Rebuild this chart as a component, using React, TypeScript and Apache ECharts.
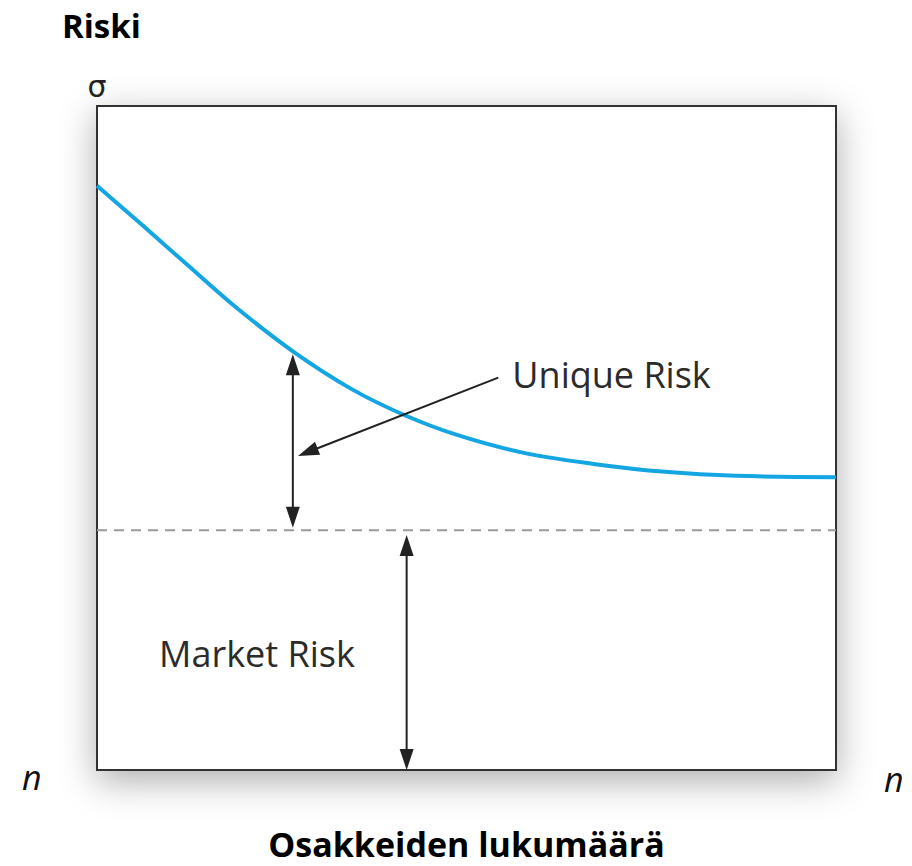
import React, { useEffect, useRef } from "react";
import * as echarts from "echarts";

// Curve of total risk (sigma) against number of shares
const curveX = [0, 6.2, 12.6, 19.0, 26.7, 34.4, 41.5, 48.6, 57.6, 67.2, 76.9, 86.5, 100];
const curveY = [88.0, 82.0, 75.7, 69.5, 62.9, 57.4, 53.5, 50.5, 47.8, 46.1, 44.9, 44.3, 44.1];

// Market risk level (dashed line)
const marketRiskLevel = 36.1;

// Arrows: [x1, y1, x2, y2, headAtStart, headAtEnd]
const arrowX1 = [26.5, 41.9, 54.3];
const arrowY1 = [62.6, 35.4, 59.1];
const arrowX2 = [26.5, 41.9, 27.2];
const arrowY2 = [36.5, 0, 47.3];
const arrowHeadStart = [1, 1, 0];
const arrowHeadEnd = [1, 1, 1];

// Annotation labels
const labelTexts = ["Unique Risk", "Market Risk"];
const labelX = [56.2, 8.4];
const labelY = [59.6, 17.6];

const titleText = "Riski";
const xAxisTitle = "Osakkeiden lukumäärä";
const yAxisSymbol = "σ";
const nLabel = "n";

export default function App() {
  const ref = useRef<HTMLDivElement>(null);

  useEffect(() => {
    if (!ref.current) return;
    const chart = echarts.init(ref.current, undefined, { renderer: "svg" });

    const curveData = curveX.map((x, i) => [x, curveY[i]]);
    const arrowData = arrowX1.map((x, i) => [
      x,
      arrowY1[i],
      arrowX2[i],
      arrowY2[i],
      arrowHeadStart[i],
      arrowHeadEnd[i],
    ]);
    const labelData = labelTexts.map((t, i) => ({ value: [labelX[i], labelY[i]], name: t }));

    const headLen = 21;
    const headHalf = 7;

    const option: any = {
      animation: false,
      backgroundColor: "#ffffff",
      title: {
        text: titleText,
        left: 57,
        top: 4,
        textStyle: {
          fontFamily: "Open Sans",
          fontWeight: "bold",
          fontSize: 33,
          color: "#000",
        },
      },
      grid: {
        left: 97,
        top: 106,
        width: 739,
        height: 675,
        show: true,
        backgroundColor: "#ffffff",
        borderColor: "#333333",
        borderWidth: 2,
        shadowBlur: 36,
        shadowColor: "rgba(0,0,0,0.32)",
        shadowOffsetY: 10,
      },
      xAxis: {
        type: "value",
        min: 0,
        max: 100,
        name: xAxisTitle,
        nameLocation: "middle",
        nameGap: 57,
        nameTextStyle: {
          fontFamily: "Open Sans",
          fontWeight: "bold",
          fontSize: 34,
          color: "#000",
        },
        axisLine: { show: false },
        axisTick: { show: false },
        axisLabel: { show: false },
        splitLine: { show: false },
      },
      yAxis: {
        type: "value",
        min: 0,
        max: 100,
        name: yAxisSymbol,
        nameLocation: "end",
        nameGap: 5,
        nameTextStyle: {
          fontFamily: "DejaVu Sans",
          fontSize: 30,
          color: "#222",
          align: "center",
        },
        axisLine: { show: false },
        axisTick: { show: false },
        axisLabel: { show: false },
        splitLine: { show: false },
      },
      graphic: [
        {
          type: "text",
          left: 22,
          top: 760,
          style: {
            text: nLabel,
            font: "italic 34px 'Open Sans'",
            fill: "#111",
          },
        },
        {
          type: "text",
          left: 884,
          top: 762,
          style: {
            text: nLabel,
            font: "italic 34px 'Open Sans'",
            fill: "#111",
          },
        },
      ],
      series: [
        {
          name: "Market risk level",
          type: "line",
          data: [
            [0, marketRiskLevel],
            [100, marketRiskLevel],
          ],
          symbol: "none",
          lineStyle: { color: "#9a9a9a", width: 2, type: [10, 7] },
          z: 2,
        },
        {
          name: "Total risk",
          type: "line",
          data: curveData,
          smooth: 0.35,
          symbol: "none",
          lineStyle: { color: "#14a5e3", width: 4 },
          z: 3,
        },
        {
          name: "Arrows",
          type: "custom",
          data: arrowData,
          encode: { x: [0, 2], y: [1, 3] },
          clip: false,
          z: 4,
          renderItem: (params: any, api: any) => {
            const p1 = api.coord([api.value(0), api.value(1)]);
            const p2 = api.coord([api.value(2), api.value(3)]);
            const hs = api.value(4);
            const he = api.value(5);
            const dx = p2[0] - p1[0];
            const dy = p2[1] - p1[1];
            const len = Math.sqrt(dx * dx + dy * dy) || 1;
            const ux = dx / len;
            const uy = dy / len;
            const px = -uy;
            const py = ux;
            const s = hs ? [p1[0] + ux * (headLen - 2), p1[1] + uy * (headLen - 2)] : p1;
            const e = he ? [p2[0] - ux * (headLen - 2), p2[1] - uy * (headLen - 2)] : p2;
            const children: any[] = [
              {
                type: "line",
                shape: { x1: s[0], y1: s[1], x2: e[0], y2: e[1] },
                style: { stroke: "#222", lineWidth: 2 },
              },
            ];
            if (he) {
              const bx = p2[0] - ux * headLen;
              const by = p2[1] - uy * headLen;
              children.push({
                type: "polygon",
                shape: {
                  points: [
                    [p2[0], p2[1]],
                    [bx + px * headHalf, by + py * headHalf],
                    [bx - px * headHalf, by - py * headHalf],
                  ],
                },
                style: { fill: "#222" },
              });
            }
            if (hs) {
              const bx = p1[0] + ux * headLen;
              const by = p1[1] + uy * headLen;
              children.push({
                type: "polygon",
                shape: {
                  points: [
                    [p1[0], p1[1]],
                    [bx + px * headHalf, by + py * headHalf],
                    [bx - px * headHalf, by - py * headHalf],
                  ],
                },
                style: { fill: "#222" },
              });
            }
            return { type: "group", children };
          },
        },
        {
          name: "Labels",
          type: "custom",
          data: labelData,
          encode: { x: 0, y: 1 },
          clip: false,
          z: 5,
          renderItem: (params: any, api: any) => {
            const p = api.coord([api.value(0), api.value(1)]);
            return {
              type: "text",
              style: {
                text: labelTexts[params.dataIndex],
                x: p[0],
                y: p[1],
                align: "left",
                verticalAlign: "middle",
                font: "36px 'Open Sans'",
                fill: "#2b2b2b",
              },
            };
          },
        },
      ],
    };

    chart.setOption(option);
    return () => chart.dispose();
  }, []);

  return (
    <div
      ref={ref}
      style={{ position: "absolute", left: 0, top: 0, width: 912, height: 866 }}
    />
  );
}
